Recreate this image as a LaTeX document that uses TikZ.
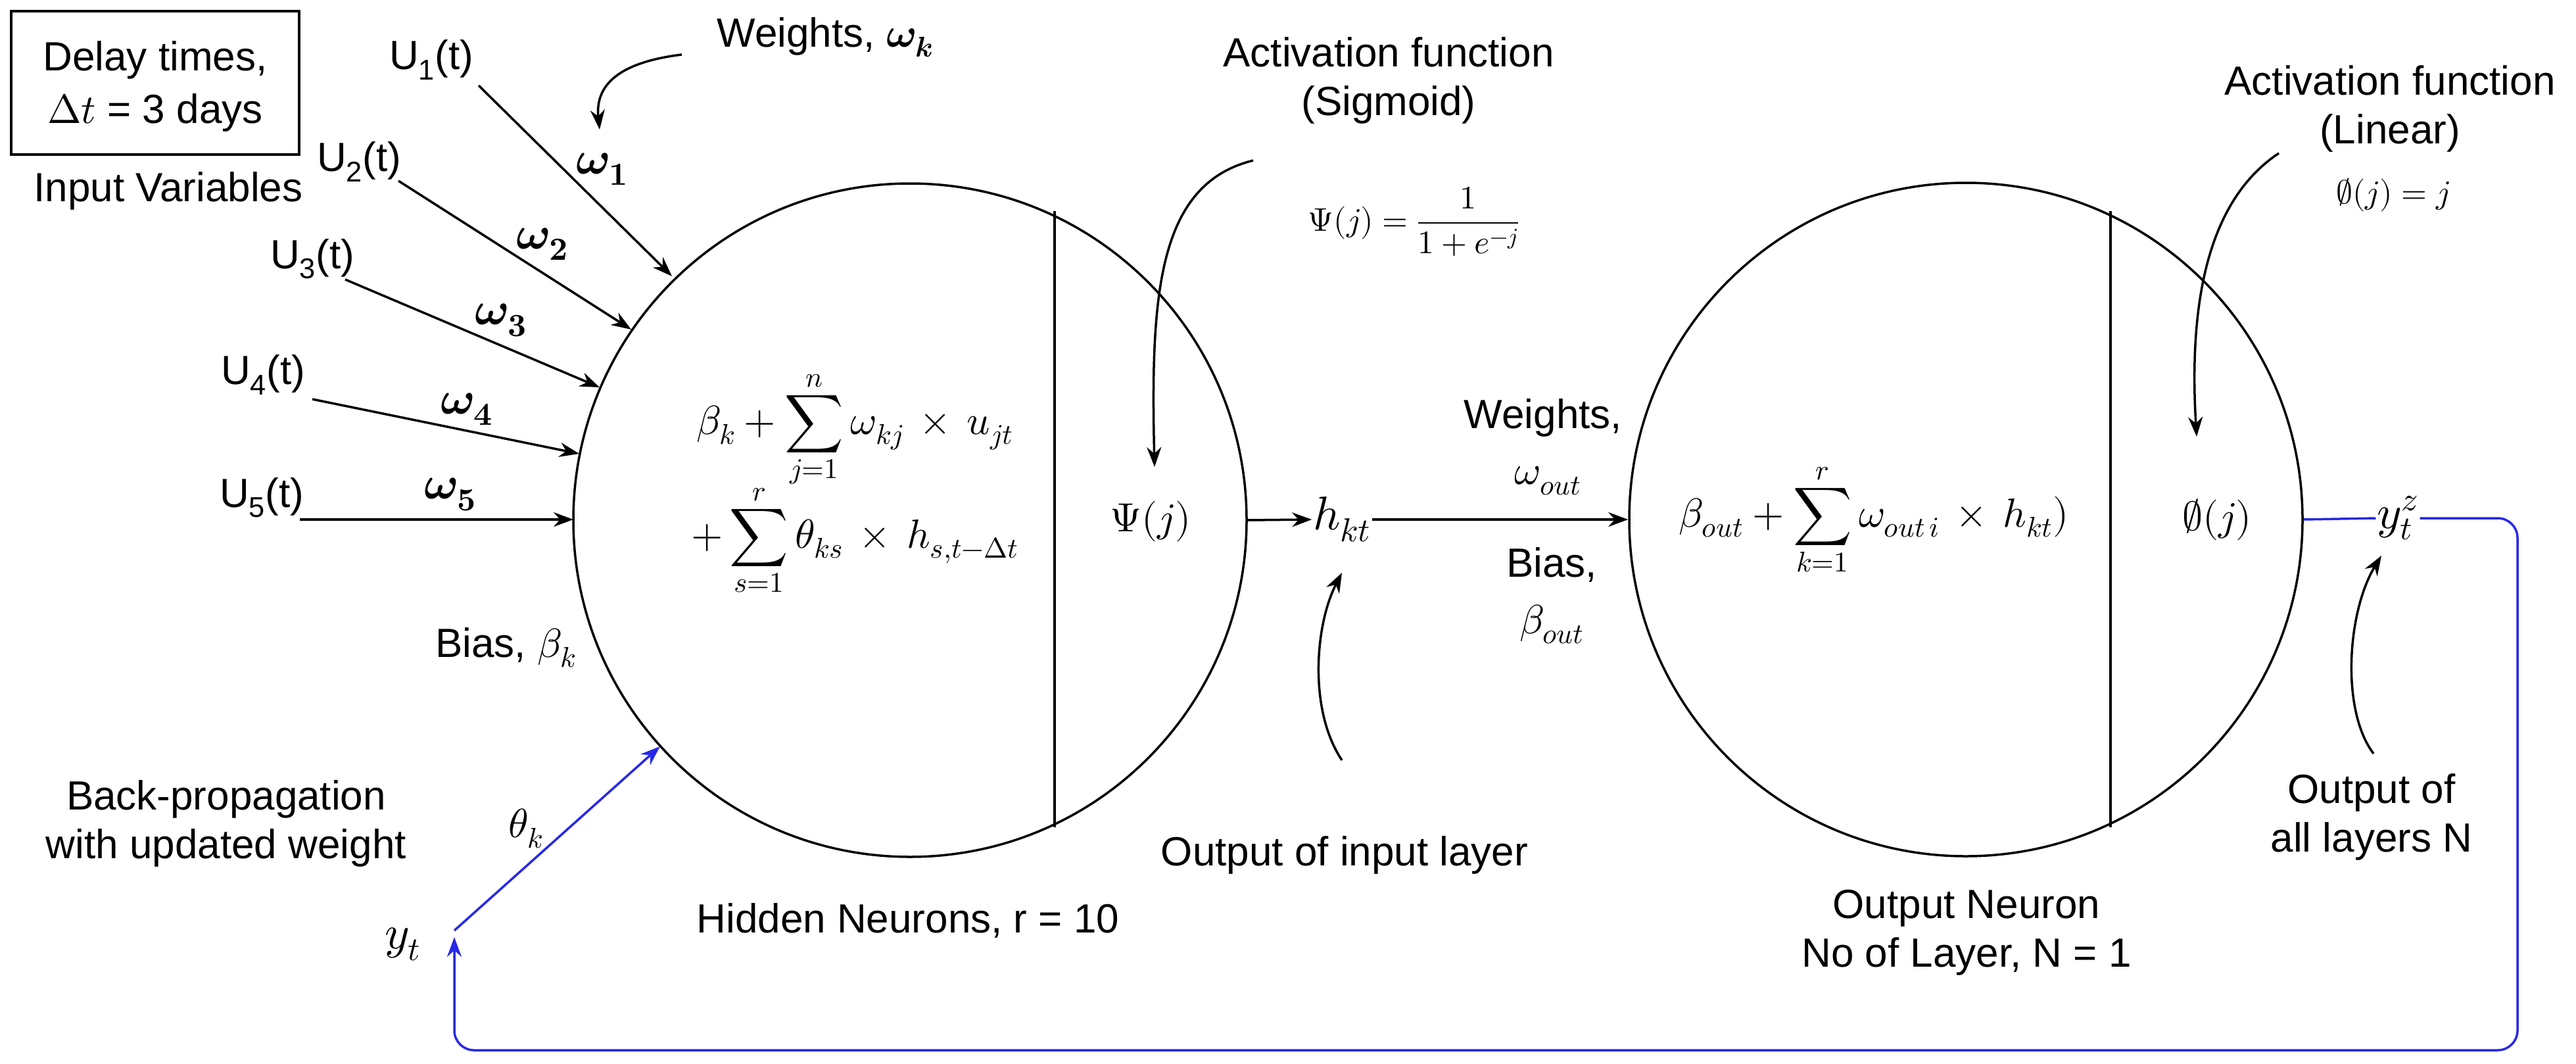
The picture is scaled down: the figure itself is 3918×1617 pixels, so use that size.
\documentclass[tikz,border=0pt]{standalone}
\usepackage{amsmath}
\usepackage{fontspec}
\usepackage{unicode-math}
\setmainfont{Liberation Sans}
\setmathfont{Latin Modern Math}
\usetikzlibrary{arrows.meta}
\begin{document}
\begin{tikzpicture}[x=1pt,y=-1pt,
  every node/.style={font=\fontsize{62}{74}\selectfont, inner sep=2pt, align=center},
  ln/.style={line width=3.5pt},
  arr/.style={ln,-{Stealth[length=30pt,width=22pt]}},
  blu/.style={line width=3.5pt,draw={rgb,255:red,40;green,40;blue,230}},
  mth/.style={font=\fontsize{62}{74}\selectfont}]
\useasboundingbox (0,0) rectangle (3918,1617);
% neurons
\node[draw,ln,circle,minimum size=1024pt] (H) at (1384,791) {};
\node[draw,ln,circle,minimum size=1024pt] (O) at (2990,790) {};
\coordinate (hd1) at (1604,321); \coordinate (hd2) at (1604,1258);
\draw[ln] (hd1) -- (hd2);
\coordinate (od1) at (3210,321); \coordinate (od2) at (3210,1258);
\draw[ln] (od1) -- (od2);
% box
\node[draw,ln,minimum width=438pt,minimum height=218pt] (box) at (236,126) {};
\node (d1) at (236,91) {Delay times,};
\node (d2) at (236,171) {$\Delta t$ = 3 days};
\node (iv) at (256,290) {Input Variables};
% inputs
\node (u1) at (656,91) {U\textsubscript{1}(t)};
\node (u2) at (546,246) {U\textsubscript{2}(t)};
\node (u3) at (475,394) {U\textsubscript{3}(t)};
\node (u4) at (400,570) {U\textsubscript{4}(t)};
\node (u5) at (398,757) {U\textsubscript{5}(t)};
\coordinate (a1) at (1022,420); \coordinate (a2) at (960,501); \coordinate (a3) at (912,589);
\coordinate (a4) at (881,690); \coordinate (a5) at (872,790);
\draw[arr] (728,130) -- (a1);
\draw[arr] (606,275) -- (a2);
\draw[arr] (525,425) -- (a3);
\draw[arr] (475,607) -- (a4);
\draw[arr] (456,790) -- (a5);
\node[mth,font=\fontsize{70}{80}\selectfont] (w1) at (916,257) {$\symbfit{\omega}_{\symbf{1}}$};
\node[mth,font=\fontsize{70}{80}\selectfont] (w2) at (825,371) {$\symbfit{\omega}_{\symbf{2}}$};
\node[mth,font=\fontsize{70}{80}\selectfont] (w3) at (762,487) {$\symbfit{\omega}_{\symbf{3}}$};
\node[mth,font=\fontsize{70}{80}\selectfont] (w4) at (710,622) {$\symbfit{\omega}_{\symbf{4}}$};
\node[mth,font=\fontsize{70}{80}\selectfont] (w5) at (685,752) {$\symbfit{\omega}_{\symbf{5}}$};
\node (wk) at (1255,57) {Weights, $\symbfit{\omega}_{\symbfit{k}}$};
\coordinate (wkt) at (912,197);
\draw[arr] (1037,83) .. controls (940,95) and (905,130) .. (wkt);
% hidden formula
\node[mth] (hf) at (1300,735) {$\displaystyle \beta_k+\sum_{j=1}^{n}\omega_{kj}\,\times\,u_{jt}$\\[-10pt]$\displaystyle +\sum_{s=1}^{r}\theta_{ks}\,\times\,h_{s,t-\Delta t}$};
\node[mth] (psi) at (1750,793) {$\Psi(j)$};
\node (bk) at (769,985) {Bias, $\beta_k$};
\node (bp) at (344,1252) {Back-propagation\\with updated weight};
\node[mth] (th) at (800,1260) {$\theta_k$};
\node[mth,font=\fontsize{72}{80}\selectfont] (yt) at (612,1436) {$y_t$};
% activation sigmoid
\node (as) at (2112,122) {Activation function\\(Sigmoid)};
\node (sf) at (2150,337) {\fontsize{50}{58}\selectfont$\Psi(j)=\dfrac{1}{1+e^{-j}}$};
\coordinate (ast) at (1756,710);
\draw[arr] (1906,244) .. controls (1760,280) and (1750,450) .. (ast);
% h_kt
\node[mth,font=\fontsize{72}{80}\selectfont] (hkt) at (2041,790) {$h_{kt}$};
\draw[arr] (H.east) -- (hkt.west);
\draw[arr] (hkt.east) -- (O.west);
\node (ww) at (2347,635) {Weights,};
\node[mth] (wo) at (2354,731) {$\omega_{out}$};
\node (bb) at (2360,859) {Bias,};
\node[mth] (bo) at (2360,949) {$\beta_{out}$};
\node (oil) at (2045,1300) {Output of input layer};
\coordinate (oilt) at (2041,871);
\draw[arr] (2041,1156) .. controls (1990,1080) and (2000,950) .. (oilt);
% output formula
\node[mth] (of) at (2850,790) {$\displaystyle \beta_{out}+\sum_{k=1}^{r}\omega_{out\,i}\,\times\,h_{kt})$};
\node[mth] (phi) at (3372,790) {$\emptyset(j)$};
\node (al) at (3635,165) {Activation function\\(Linear)};
\node (lf) at (3640,296) {\fontsize{50}{58}\selectfont$\emptyset(j)=j$};
\coordinate (alt) at (3341,664);
\draw[arr] (3466,233) .. controls (3350,310) and (3330,480) .. (alt);
\node[mth,font=\fontsize{72}{80}\selectfont] (yz) at (3647,788) {$y_t^z$};
\node (oal) at (3607,1242) {Output of\\all layers N};
\coordinate (oalt) at (3622,845);
\draw[arr] (3610,1146) .. controls (3560,1080) and (3570,930) .. (oalt);
\node (on) at (2991,1418) {Output Neuron\\No of Layer, N = 1};
\node (hn) at (1381,1400) {Hidden Neurons, r = 10};
% blue feedback
\draw[blu] (O.east) -- (yz.west);
\coordinate (ytt) at (691,1415);
\coordinate (bpt) at (1004,1135);
\draw[blu,-{Stealth[length=30pt,width=22pt]}] (ytt) -- (bpt);
\draw[blu,rounded corners=30pt,-{Stealth[length=30pt,width=22pt]}] (yz.east) -- (3829,788) -- (3829,1597) -- (691,1597) -- (691,1425);
\end{tikzpicture}
\end{document}
